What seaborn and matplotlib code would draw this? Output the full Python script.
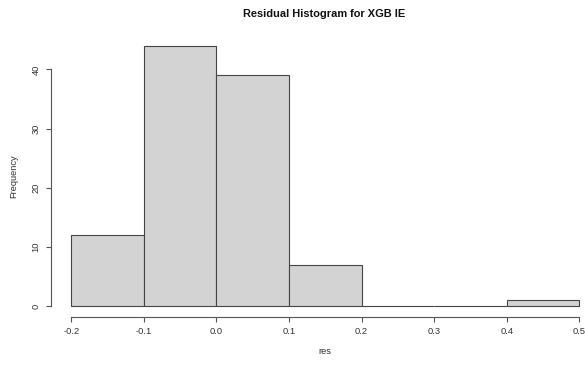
import seaborn as sns
import matplotlib.pyplot as plt
import numpy as np

# residual histogram, bins of width 0.1
bin_edges = [-0.2, -0.1, 0.0, 0.1, 0.2, 0.3, 0.4, 0.5]
counts = [12, 44, 39, 7, 0, 0, 1]
x_ticks = [-0.2, -0.1, 0.0, 0.1, 0.2, 0.3, 0.4, 0.5]
x_tick_labels = ["-0.2", "-0.1", "0.0", "0.1", "0.2", "0.3", "0.4", "0.5"]
y_ticks = [0, 10, 20, 30, 40]

mids = [(a + b) / 2 for a, b in zip(bin_edges[:-1], bin_edges[1:])]

sns.set_style("ticks")
plt.rcParams["font.family"] = ["Liberation Sans", "DejaVu Sans"]

fig = plt.figure(figsize=(5.85, 3.67), dpi=100)
ax = fig.add_axes([0.0872, 0.1368, 0.9378, 0.767])

sns.histplot(x=mids, weights=counts, bins=bin_edges, ax=ax,
             color="#D3D3D3", edgecolor="#444444", linewidth=0.8, alpha=1)

ax.set_xlim(-0.228, 0.528)
ax.set_ylim(-1.76, 45.76)

ax.set_xticks(x_ticks)
ax.set_xticklabels(x_tick_labels)
ax.set_yticks(y_ticks)
ax.set_yticklabels([str(v) for v in y_ticks], rotation=90, va="center")

for s in ["top", "right"]:
    ax.spines[s].set_visible(False)
ax.spines["left"].set_bounds(0, 40)
ax.spines["bottom"].set_bounds(-0.2, 0.5)
for s in ["left", "bottom"]:
    ax.spines[s].set_color("#555555")
    ax.spines[s].set_linewidth(0.8)

ax.tick_params(axis="both", length=3.6, width=0.8, color="#555555",
               labelsize=6.7, labelcolor="#333333", pad=4)

ax.set_xlabel("res", fontsize=6.7, color="#333333")
ax.set_ylabel("Frequency", fontsize=6.7, color="#333333")
ax.xaxis.set_label_coords(0.5, -0.108)
ax.yaxis.set_label_coords(-0.059, 0.5)

fig.text(324.5 / 585, 1 - 14 / 367, "Residual Histogram for XGB IE",
         ha="center", va="center", fontsize=7.9, fontweight="bold", color="#111111")

fig.savefig("out.png", dpi=100)
